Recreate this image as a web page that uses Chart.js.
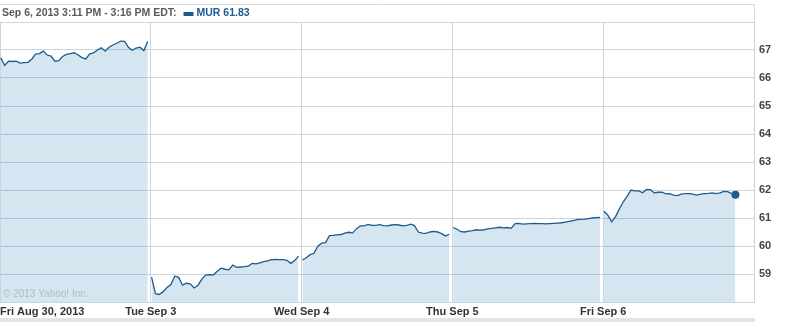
<!DOCTYPE html>
<html>
<head>
<meta charset="utf-8">
<script src="https://cdn.jsdelivr.net/npm/chart.js@4/dist/chart.umd.min.js"></script>
<style>
  html, body { margin: 0; padding: 0; background: #fff; }
  canvas { display: block; }
</style>
</head>
<body>
<canvas id="chart" width="803" height="322"></canvas>
<script>
// 10-minute samples from the open (9:32, 9:42, ...) for each trading day
const dayLabels = ["Fri Aug 30, 2013", "Tue Sep 3", "Wed Sep 4", "Thu Sep 5", "Fri Sep 6"];
const aug30 = [66.72, 66.45, 66.6, 66.59, 66.6, 66.53, 66.55, 66.56, 66.67, 66.85,
  66.87, 66.96, 66.82, 66.78, 66.6, 66.62, 66.77, 66.84, 66.87, 66.9,
  66.82, 66.73, 66.68, 66.86, 66.9, 67.0, 67.08, 66.96, 67.1, 67.18,
  67.24, 67.32, 67.31, 67.1, 66.99, 67.07, 67.1, 66.98, 67.3];
const sep3 = [58.89, 58.3, 58.27, 58.37, 58.52, 58.62, 58.92, 58.88, 58.6, 58.67,
  58.65, 58.5, 58.6, 58.82, 58.96, 58.98, 58.97, 59.1, 59.21, 59.17,
  59.15, 59.32, 59.24, 59.25, 59.26, 59.28, 59.38, 59.36, 59.4, 59.44,
  59.47, 59.51, 59.52, 59.51, 59.51, 59.49, 59.38, 59.48, 59.64];
const sep4 = [59.5, 59.58, 59.69, 59.74, 59.99, 60.1, 60.12, 60.37, 60.38, 60.4,
  60.41, 60.46, 60.49, 60.47, 60.62, 60.72, 60.72, 60.77, 60.74, 60.74,
  60.76, 60.73, 60.72, 60.75, 60.76, 60.75, 60.72, 60.74, 60.78, 60.73,
  60.5, 60.46, 60.45, 60.5, 60.52, 60.5, 60.44, 60.36, 60.42];
const sep5 = [60.66, 60.6, 60.51, 60.5, 60.53, 60.55, 60.58, 60.57, 60.58, 60.61,
  60.63, 60.65, 60.67, 60.65, 60.66, 60.63, 60.8, 60.81, 60.78, 60.79,
  60.8, 60.81, 60.8, 60.8, 60.79, 60.8, 60.81, 60.82, 60.83, 60.85,
  60.88, 60.91, 60.94, 60.95, 60.96, 60.98, 61.0, 61.01, 61.02];
const sep6 = [61.24, 61.1, 60.86, 61.05, 61.33, 61.58, 61.78, 62.0, 61.97, 61.97,
  61.9, 62.02, 62.01, 61.9, 61.92, 61.92, 61.86, 61.87, 61.82, 61.8,
  61.85, 61.87, 61.87, 61.85, 61.82, 61.85, 61.87, 61.88, 61.9, 61.87,
  61.9, 61.95, 61.94, 61.87, 61.83];
const yTicks = [58, 59, 60, 61, 62, 63, 64, 65, 66, 67, 68];
const headerText = "Sep 6, 2013 3:11 PM - 3:16 PM EDT:";
const symbol = "MUR";
const lastPrice = 61.83;

const MIN_PER_DAY = 390;
const STEP = 10;
const LINE = "#1f5a8c";
const GRID = "#c6d6e2";
const FONT = "'Liberation Sans', Arial, sans-serif";

const days = [aug30, sep3, sep4, sep5, sep6];
const points = [];
days.forEach((vals, d) => {
  vals.forEach((v, k) => points.push({ x: d * MIN_PER_DAY + k * STEP + 2, y: v }));
  if (d < days.length - 1) points.push({ x: (d + 1) * MIN_PER_DAY, y: null });
});
const lastIndex = points.length - 1;
const dayTicks = dayLabels.map((_, d) => d * MIN_PER_DAY).concat(days.length * MIN_PER_DAY);

const chrome = {
  id: "chrome",
  beforeDraw(c) {
    const ctx = c.ctx;
    const { right } = c.chartArea;
    ctx.save();
    ctx.fillStyle = "#fff";
    ctx.fillRect(0, 0, c.width, c.height);
    ctx.strokeStyle = "#dcdcdc";
    ctx.lineWidth = 1;
    ctx.beginPath();
    ctx.moveTo(0, 4.5);
    ctx.lineTo(right + 0.5, 4.5);
    ctx.moveTo(Math.round(right) + 0.5, 4);
    ctx.lineTo(Math.round(right) + 0.5, 22);
    ctx.stroke();
    ctx.fillStyle = "#e4e4e4";
    ctx.fillRect(0, 318, right + 1, 4);
    ctx.restore();
  },
  afterDatasetsDraw(c) {
    const ctx = c.ctx;
    ctx.save();
    ctx.font = "10px " + FONT;
    ctx.fillStyle = "#aebdca";
    ctx.textBaseline = "middle";
    ctx.fillText("\u00a9 2013 Yahoo! Inc.", 3, 294);
    ctx.restore();
  },
  afterDraw(c) {
    const ctx = c.ctx;
    ctx.save();
    ctx.font = "bold 10.5px " + FONT;
    ctx.textBaseline = "middle";
    ctx.fillStyle = "#5a5a5a";
    ctx.fillText(headerText, 2, 13.5);
    const w = ctx.measureText(headerText).width;
    ctx.fillStyle = LINE;
    ctx.fillRect(w + 9, 12, 10, 4);
    ctx.fillStyle = "#1c5a94";
    ctx.fillText(symbol + " " + lastPrice.toFixed(2), w + 22, 13.5);
    ctx.restore();
  },
};

new Chart(document.getElementById("chart"), {
  type: "line",
  data: {
    datasets: [{
      data: points,
      borderColor: LINE,
      borderWidth: 1.3,
      backgroundColor: "rgba(50, 130, 185, 0.2)",
      fill: "start",
      tension: 0,
      spanGaps: false,
      pointRadius: (ctx) => (ctx.dataIndex === lastIndex ? 4 : 0),
      pointBackgroundColor: LINE,
      pointBorderColor: LINE,
      pointBorderWidth: 0,
    }],
  },
  options: {
    responsive: false,
    animation: false,
    devicePixelRatio: 1,
    layout: { autoPadding: false, padding: { top: 22, left: 0, right: 0, bottom: 0 } },
    plugins: { legend: { display: false }, tooltip: { enabled: false } },
    scales: {
      x: {
        type: "linear",
        min: 0,
        max: days.length * MIN_PER_DAY,
        afterBuildTicks: (s) => { s.ticks = dayTicks.map((v) => ({ value: v })); },
        afterFit: (s) => { s.height = 20; },
        grid: { color: GRID, drawTicks: false },
        border: { color: GRID },
        ticks: {
          align: "inner",
          padding: 0,
          maxRotation: 0,
          autoSkip: false,
          color: "#333",
          font: { family: FONT, size: 11, weight: "bold", lineHeight: 1.75 },
          callback: (v, i) => dayLabels[i] || "",
        },
      },
      y: {
        position: "right",
        min: 58,
        max: 68,
        afterBuildTicks: (s) => { s.ticks = yTicks.map((v) => ({ value: v })); },
        afterFit: (s) => { s.width = 49; },
        grid: { color: GRID, drawTicks: false },
        border: { color: GRID },
        ticks: {
          padding: 5,
          color: "#444",
          font: { family: FONT, size: 11, weight: "bold" },
          callback: (v) => (v === 58 || v === 68 ? "" : String(v)),
        },
      },
    },
  },
  plugins: [chrome],
});
</script>
</body>
</html>
